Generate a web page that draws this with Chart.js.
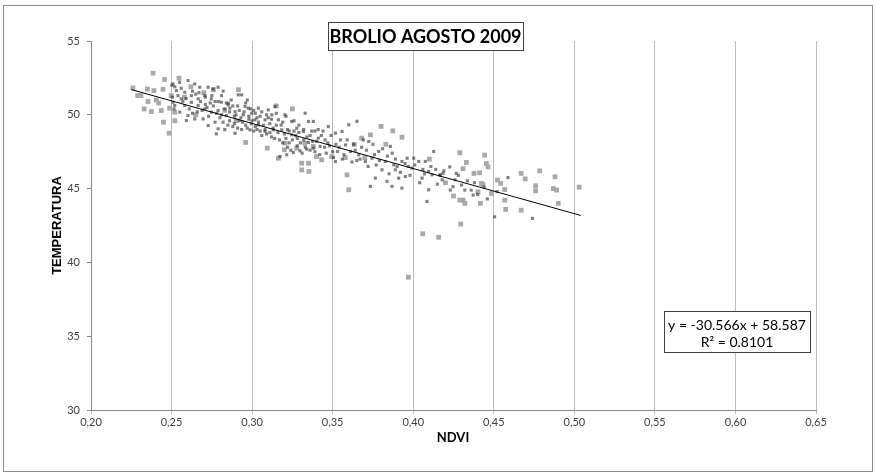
<!DOCTYPE html>
<html>
<head>
<meta charset="utf-8">
<title>BROLIO AGOSTO 2009</title>
<script src="https://cdn.jsdelivr.net/npm/chart.js@4.4.1/dist/chart.umd.min.js"></script>
<style>
  html, body { margin: 0; padding: 0; background: #fff; }
  #wrap { width: 876px; height: 475px; }
</style>
</head>
<body>
<div id="wrap"><canvas id="chart" width="876" height="475"></canvas></div>
<script>
// --- Data ---
const chartTitle = 'BROLIO AGOSTO 2009';
const xTitle = 'NDVI';
const yTitle = 'TEMPERATURA';

// pixel samples: larger light grey squares
const ndviLight = [
  0.226, 0.229, 0.231, 0.235, 0.2385, 0.239, 0.2354, 0.2405, 0.2375, 0.2436, 0.2447, 0.2457, 0.2546, 0.2488,
  0.245, 0.252, 0.2485, 0.2498, 0.252, 0.233, 0.242,
  0.262, 0.27, 0.276, 0.258, 0.265, 0.283, 0.29, 0.2915,
  0.296, 0.3094, 0.32, 0.3163, 0.3308, 0.335, 0.3308, 0.3353, 0.3328, 0.3277, 0.340, 0.3432, 0.3494, 0.338,
  0.3204, 0.315, 0.325,
  0.380, 0.3873, 0.393, 0.368, 0.3734, 0.3634, 0.3578, 0.3589, 0.36, 0.4059, 0.4158, 0.397,
  0.4289, 0.4443, 0.433, 0.4454, 0.4464, 0.4309, 0.4377, 0.4412, 0.4422, 0.4433, 0.4523, 0.4543, 0.4568,
  0.467, 0.4695, 0.4785, 0.476, 0.476, 0.4568, 0.467, 0.4574, 0.4485, 0.4295, 0.4402, 0.4417, 0.431, 0.432,
  0.429, 0.487, 0.488, 0.49, 0.489, 0.503, 0.425, 0.42, 0.41, 0.383, 0.37
];
const tempLight = [
  51.82, 51.30, 51.30, 51.75, 52.82, 51.64, 50.90, 51.00, 50.22, 50.29, 51.73, 52.39, 52.48, 50.45,
  49.50, 49.60, 48.75, 51.30, 50.18, 50.4, 50.8,
  51.9, 51.5, 51.7, 51.2, 50.0, 50.3, 49.6, 51.7,
  48.13, 47.74, 47.63, 47.06, 46.72, 46.72, 46.27, 46.16, 48.08, 47.74, 47.17, 46.95, 47.17, 47.86,
  48.08, 50.6, 50.4,
  49.21, 48.91, 48.48, 48.42, 48.64, 48.00, 47.10, 45.93, 44.92, 41.94, 41.70, 39.0,
  47.43, 47.27, 46.77, 46.70, 46.47, 46.35, 46.03, 46.07, 45.35, 45.28, 45.58, 45.35, 44.94,
  46.03, 45.66, 46.20, 45.19, 44.85, 44.22, 43.54, 43.59, 44.67, 42.60, 44.78, 44.00, 44.22, 44.00,
  44.22, 45.0, 45.8, 44.0, 44.9, 45.1, 44.5, 45.4, 47.0, 48.0, 47.1
];

// smaller dark squares
const ndviDark = [
  0.2509, 0.253, 0.256, 0.2582, 0.254, 0.256, 0.2509, 0.252, 0.2515, 0.2551, 0.2582, 0.2592, 0.2502, 0.2505,
  0.2602, 0.2644, 0.2675, 0.2623, 0.2665, 0.2665, 0.2623, 0.2602, 0.2644, 0.2696, 0.2706, 0.2706, 0.268, 0.263, 0.266,
  0.2727, 0.2758, 0.2789, 0.2747, 0.2747, 0.2789, 0.2727, 0.2789, 0.2778, 0.271, 0.276, 0.279, 0.273, 0.277,
  0.2809, 0.2851, 0.283, 0.282, 0.284, 0.2852, 0.2894, 0.2862, 0.2894, 0.281, 0.287, 0.286, 0.288, 0.283, 0.289,
  0.2914, 0.2935, 0.2956, 0.2976, 0.2997, 0.2945, 0.2987, 0.292, 0.296, 0.298, 0.2935, 0.291, 0.2995, 0.297,
  0.3018, 0.3039, 0.308, 0.308, 0.3039, 0.31, 0.302, 0.305, 0.306, 0.301, 0.309, 0.303,
  0.3122, 0.3142, 0.3163, 0.3184, 0.3132, 0.3173, 0.3204, 0.311, 0.315, 0.319, 0.312, 0.317,
  0.3215, 0.3256, 0.3297, 0.3246, 0.3277, 0.3246, 0.322, 0.326, 0.328, 0.323, 0.321, 0.329,
  0.3339, 0.338, 0.335, 0.3318, 0.335, 0.3329, 0.338, 0.336, 0.332, 0.339, 0.3375,
  0.3422, 0.3411, 0.3453, 0.3473, 0.344, 0.348, 0.346, 0.341, 0.349,
  0.3517, 0.3548, 0.358, 0.353, 0.3517, 0.3558, 0.36, 0.357, 0.3505,
  0.361, 0.3662, 0.3651, 0.3703, 0.363, 0.368, 0.365,
  0.3724, 0.3744, 0.3734, 0.3765, 0.3786, 0.371, 0.377, 0.375,
  0.3858, 0.3827, 0.3879, 0.3889, 0.3837, 0.3868, 0.3806, 0.384, 0.389,
  0.393, 0.3951, 0.393, 0.391, 0.3992, 0.3962, 0.397,
  0.4034, 0.4003, 0.4055, 0.4075, 0.4096, 0.4096, 0.4085, 0.4117, 0.4127, 0.406,
  0.4168, 0.4165, 0.4185, 0.414, 0.418,
  0.4227, 0.4267, 0.43, 0.4336, 0.4247, 0.436, 0.4372, 0.4505, 0.4588, 0.474, 0.428, 0.444, 0.44,
  0.252, 0.255, 0.257, 0.259, 0.261, 0.263, 0.265, 0.267, 0.269, 0.271, 0.272, 0.274, 0.275, 0.277,
  0.278, 0.280, 0.281, 0.282, 0.284, 0.285, 0.286, 0.288, 0.289, 0.290, 0.291, 0.292, 0.293, 0.294,
  0.295, 0.296, 0.297, 0.298, 0.299, 0.300, 0.301, 0.302, 0.303, 0.304, 0.305, 0.306, 0.307, 0.308,
  0.309, 0.310, 0.311, 0.312, 0.313, 0.314, 0.315, 0.316, 0.318, 0.319, 0.320, 0.321, 0.322, 0.323,
  0.324, 0.325, 0.326, 0.327, 0.328, 0.329, 0.330, 0.331, 0.332, 0.333, 0.334, 0.336, 0.337, 0.339,
  0.340, 0.342, 0.343, 0.345, 0.347, 0.350, 0.352, 0.354, 0.356, 0.359, 0.362, 0.364, 0.367, 0.369,
  0.372, 0.376, 0.379, 0.381, 0.385, 0.387, 0.390, 0.392, 0.395, 0.398, 0.401, 0.404, 0.407, 0.411,
  0.415, 0.419, 0.423, 0.426, 0.432, 0.438, 0.446, 0.452
];
const tempDark = [
  52.09, 51.64, 51.80, 51.53, 51.30, 51.08, 50.85, 50.63, 50.40, 50.18, 50.63, 49.61, 52.0, 51.2,
  52.32, 52.09, 51.87, 51.30, 51.08, 50.63, 50.85, 49.95, 49.72, 49.72, 51.30, 50.40, 50.9, 51.6, 50.2,
  51.87, 51.75, 51.87, 51.08, 50.18, 50.29, 49.27, 49.05, 48.71, 50.7, 50.6, 50.9, 49.9, 49.5,
  50.85, 50.67, 50.40, 49.50, 49.95, 50.78, 50.22, 50.45, 48.75, 51.3, 51.0, 49.6, 49.2, 49.0, 49.9,
  51.35, 51.35, 50.56, 50.45, 50.11, 50.00, 48.98, 49.6, 49.3, 49.7, 49.0, 50.6, 49.4, 51.0,
  49.66, 49.32, 49.66, 48.87, 50.45, 50.33, 50.1, 49.9, 48.6, 48.9, 50.0, 49.0,
  50.00, 50.56, 49.66, 48.98, 48.98, 47.17, 50.00, 49.4, 49.3, 49.5, 48.5, 48.3,
  47.29, 47.45, 47.56, 49.55, 49.09, 48.64, 49.0, 48.9, 48.4, 48.1, 49.9, 49.3,
  47.67, 47.74, 48.13, 48.87, 49.55, 50.11, 49.55, 48.6, 48.3, 48.9, 48.2,
  47.86, 48.42, 48.30, 49.20, 48.9, 47.9, 47.4, 49.0, 48.6,
  48.76, 48.30, 47.96, 47.52, 46.84, 48.87, 49.32, 47.3, 47.1,
  47.52, 47.29, 49.56, 46.84, 48.0, 47.8, 46.9,
  48.19, 47.06, 45.15, 45.71, 47.52, 47.6, 46.6, 48.0,
  47.86, 46.84, 46.61, 46.27, 45.49, 45.15, 46.27, 47.2, 47.0,
  46.84, 45.82, 45.03, 45.71, 46.39, 47.06, 46.5,
  46.84, 47.06, 45.71, 46.84, 46.16, 44.92, 44.13, 45.93, 47.52, 46.3,
  45.93, 45.91, 46.03, 46.3, 45.6,
  46.47, 46.03, 45.24, 45.53, 45.13, 44.90, 44.56, 43.09, 45.75, 42.98, 45.9, 45.1, 44.6,
  51.9, 52.2, 50.9, 51.1, 50.4, 50.1, 51.4, 51.5, 50.3, 51.2, 50.5, 50.8, 51.3, 50.9,
  50.1, 49.8, 50.0, 51.6, 50.8, 49.3, 50.2, 50.6, 49.4, 50.0, 49.1, 50.3, 49.8, 49.5,
  50.2, 50.8, 49.1, 49.9, 50.4, 49.6, 50.3, 49.2, 49.8, 49.5, 48.9, 50.2, 49.3, 49.0,
  48.7, 49.8, 48.8, 49.7, 49.1, 48.4, 50.1, 48.8, 49.3, 48.1, 48.7, 48.4, 47.8, 48.9,
  47.6, 48.3, 49.6, 48.6, 47.9, 48.8, 48.1, 47.4, 49.0, 47.8, 48.5, 47.6, 48.9, 47.5,
  48.2, 47.3, 48.6, 47.8, 48.1, 47.5, 48.0, 47.8, 47.0, 48.3, 46.8, 47.6, 47.0, 48.3,
  46.5, 47.3, 46.9, 47.7, 46.0, 47.4, 46.5, 46.1, 46.7, 45.9, 46.6, 45.4, 46.0, 46.5,
  45.3, 46.2, 44.9, 45.6, 44.9, 45.4, 44.3, 44.8
];

// linear trend
const slope = -30.566;
const intercept = 58.587;
const rSquared = 0.8101;
const trendRange = [0.225, 0.504];

const xTicks = [0.20, 0.25, 0.30, 0.35, 0.40, 0.45, 0.50, 0.55, 0.60, 0.65];
const yTicks = [30, 35, 40, 45, 50, 55];

// --- Helpers ---
function zip(xs, ys) {
  return xs.map((x, i) => ({ x: x, y: ys[i] }));
}

const FONT = 'Lato, "Open Sans", sans-serif';

// boxes, axis titles and outer frame
const decorations = {
  id: 'decorations',
  afterDraw(chart) {
    const ctx = chart.ctx;
    const area = chart.chartArea;
    ctx.save();

    // outer frame
    ctx.strokeStyle = '#8c8c8c';
    ctx.lineWidth = 1;
    ctx.strokeRect(3.5, 5.5, 869, 466);

    // title box
    ctx.font = 'bold 18px ' + FONT;
    ctx.textAlign = 'center';
    ctx.textBaseline = 'middle';
    ctx.fillStyle = '#fff';
    ctx.fillRect(328, 22, 195, 28);
    ctx.strokeStyle = '#404040';
    ctx.strokeRect(328.5, 22.5, 195, 28);
    ctx.fillStyle = '#000';
    ctx.fillText(chartTitle, 425.5, 37);

    // equation box
    ctx.fillStyle = '#fff';
    ctx.fillRect(664, 311, 146, 41);
    ctx.strokeStyle = '#404040';
    ctx.strokeRect(664.5, 311.5, 146, 41);
    ctx.fillStyle = '#000';
    ctx.font = '14px ' + FONT;
    const eq = 'y = ' + slope.toFixed(3) + 'x + ' + intercept.toFixed(3);
    ctx.fillText(eq, 737, 325);
    ctx.fillText('R\u00b2 = ' + rSquared.toFixed(4), 737, 342);

    // axis titles
    ctx.font = 'bold 13px ' + FONT;
    ctx.fillText(xTitle, (area.left + area.right) / 2 - 0.5, 438);
    ctx.translate(57, (area.top + area.bottom) / 2);
    ctx.rotate(-Math.PI / 2);
    ctx.font = 'bold 13px "Liberation Sans", Arial, sans-serif';
    ctx.fillText(yTitle, 0, 0);

    ctx.restore();
  }
};

const ctx = document.getElementById('chart').getContext('2d');
new Chart(ctx, {
  type: 'scatter',
  data: {
    datasets: [
      {
        label: 'trend',
        type: 'line',
        data: trendRange.map(x => ({ x: x, y: slope * x + intercept })),
        borderColor: '#000',
        borderWidth: 1,
        pointRadius: 0,
        showLine: true,
        fill: false,
        order: 0
      },
      {
        label: 'dark',
        data: zip(ndviDark, tempDark),
        pointStyle: 'rect',
        pointRadius: 2.2,
        backgroundColor: 'rgba(50,50,50,0.62)',
        borderWidth: 0,
        order: 1
      },
      {
        label: 'light',
        data: zip(ndviLight, tempLight),
        pointStyle: 'rect',
        pointRadius: 3.4,
        backgroundColor: '#a9a9a9',
        borderWidth: 0,
        order: 2
      }
    ]
  },
  options: {
    responsive: false,
    animation: false,
    layout: { padding: { top: 41, right: 60, left: 0, bottom: 0 } },
    plugins: {
      legend: { display: false },
      tooltip: { enabled: false },
      title: { display: false }
    },
    scales: {
      x: {
        type: 'linear',
        min: xTicks[0],
        max: xTicks[xTicks.length - 1],
        afterBuildTicks: scale => { scale.ticks = xTicks.map(v => ({ value: v })); },
        afterFit: scale => { scale.height = 65; },
        ticks: {
          maxRotation: 0,
          autoSkip: false,
          padding: 2,
          color: '#404040',
          font: { family: FONT, size: 11 },
          callback: v => Number(v).toFixed(2).replace('.', ',')
        },
        grid: { color: '#bcbcbc', lineWidth: 1, tickLength: 4, drawOnChartArea: true },
        border: { color: '#868686' }
      },
      y: {
        min: yTicks[0],
        max: yTicks[yTicks.length - 1],
        afterBuildTicks: scale => { scale.ticks = yTicks.map(v => ({ value: v })); },
        afterFit: scale => { scale.width = 91; },
        ticks: {
          padding: 7,
          color: '#404040',
          font: { family: FONT, size: 11 }
        },
        grid: { drawOnChartArea: false, tickLength: 4, color: '#868686' },
        border: { color: '#868686' }
      }
    }
  },
  plugins: [decorations]
});
</script>
</body>
</html>
